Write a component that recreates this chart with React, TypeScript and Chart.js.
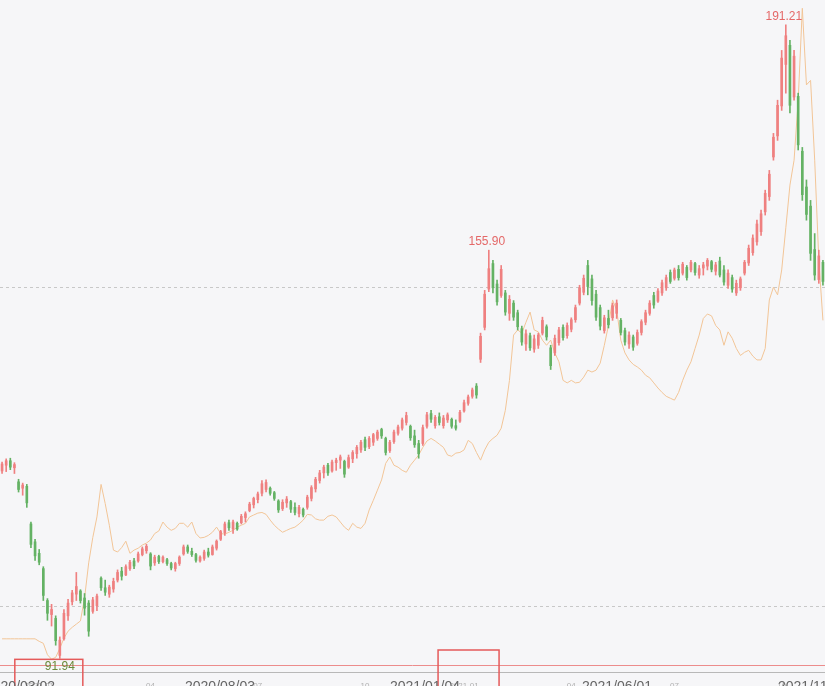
import { useEffect, useRef } from "react";
import { Chart, registerables } from "chart.js";

Chart.register(...registerables);

// ---- data ----
const openP = [
  121.3,122.2,122.9,121.8,119.6,118.6,118.9,113.0,110.2,108.4,
  106.0,101.0,98.8,98.2,92.4,95.0,98.6,100.8,102.0,102.5,
  101.4,100.6,99.3,100.2,104.5,103.0,102.0,102.8,104.2,105.6,
  105.0,106.0,107.2,107.2,108.2,108.8,108.3,106.9,107.9,107.1,
  107.4,106.8,106.0,106.8,108.3,109.4,108.7,108.2,107.2,107.6,
  108.6,108.2,109.2,110.6,111.6,113.2,112.2,113.1,113.2,114.0,
  115.1,116.0,116.8,117.8,118.4,118.6,117.9,116.6,115.4,116.3,
  116.5,115.6,114.6,115.3,115.6,117.0,118.5,119.8,121.0,122.2,
  121.3,122.6,123.0,122.8,121.9,123.2,124.0,124.6,126.2,125.1,
  125.8,126.4,127.8,126.4,124.5,125.9,127.2,128.0,128.9,128.3,
  126.8,125.6,125.6,128.3,130.3,128.4,129.8,128.4,129.3,129.4,
  128.4,129.1,130.7,131.9,133.0,134.6,138.8,143.8,149.8,153.8,
  150.6,148.8,149.2,146.0,147.6,146.1,143.6,141.2,142.5,140.4,
  141.0,142.9,143.9,140.6,139.8,141.4,143.8,142.5,143.5,145.0,
  147.6,149.3,153.5,151.4,149.0,146.9,143.3,145.2,145.3,146.0,
  144.9,143.3,141.2,142.3,141.3,143.0,144.6,146.0,148.8,147.9,
  149.2,150.0,152.4,151.5,152.9,152.3,153.2,152.8,153.8,152.0,
  153.1,153.4,154.1,152.6,154.2,152.8,150.4,151.6,149.2,150.0,
  152.3,153.9,155.5,157.2,158.8,161.9,164.3,170.5,173.8,178.5,
  185.0,188.0,179.9,180.0,171.4,165.8,162.8,156.0,151.3,154.0,
];
const closeP = [
  122.4,122.9,121.9,122.3,118.4,119.1,116.3,109.8,108.0,107.0,
  101.8,99.0,99.6,94.7,94.8,99.0,100.6,102.2,103.2,101.0,
  99.8,96.2,101.1,101.7,103.0,102.3,103.1,104.0,105.4,104.8,
  106.3,107.0,106.4,108.3,109.1,109.5,106.4,107.8,107.1,107.8,
  106.8,106.1,106.8,107.8,109.4,108.7,108.2,107.3,107.8,108.6,
  108.1,109.4,110.3,111.8,113.0,112.4,113.3,112.2,114.2,114.6,
  116.1,117.0,117.7,119.3,119.5,117.8,117.0,115.2,116.4,116.9,
  115.3,114.8,115.6,114.4,117.2,118.7,120.0,121.0,121.9,121.0,
  122.7,123.0,123.5,120.8,123.4,124.2,125.0,125.8,125.0,126.4,
  127.0,127.4,126.8,124.2,125.8,127.4,128.2,129.3,130.0,126.5,
  125.4,124.0,128.1,130.1,129.4,129.7,128.9,129.6,130.1,128.3,
  128.0,130.5,132.0,132.9,134.0,133.2,142.4,149.0,153.0,150.0,
  147.8,152.9,146.2,148.2,145.4,143.9,141.5,142.8,140.6,142.0,
  142.6,144.9,142.3,137.8,142.1,143.4,142.2,144.1,145.0,146.9,
  150.0,151.5,150.2,148.0,145.4,144.0,145.3,144.2,147.2,147.6,
  143.0,141.5,142.6,140.7,143.0,144.7,146.1,147.6,147.3,149.5,
  150.8,151.6,151.0,152.8,151.6,153.7,151.6,154.0,152.4,153.0,
  153.6,154.3,152.9,153.6,152.0,150.9,152.3,149.8,150.7,151.4,
  154.0,156.2,157.8,160.0,161.6,164.8,167.8,173.6,178.6,186.0,
  189.5,178.6,186.3,172.4,164.6,161.5,155.4,152.0,155.0,151.0,
];
const highP = [
  122.7,123.2,123.3,122.6,120.0,119.4,119.2,113.3,110.6,109.0,
  106.3,101.3,100.4,98.6,95.3,99.6,101.2,102.6,105.4,102.7,
  102.1,101.0,101.5,102.0,104.7,104.2,103.4,104.5,105.8,106.2,
  106.6,107.3,107.6,108.6,109.4,109.8,108.5,108.1,108.1,108.0,
  107.6,107.0,107.0,108.0,109.7,109.7,109.2,108.4,108.0,108.9,
  109.2,109.7,110.5,112.0,113.3,113.6,113.6,113.3,114.5,114.9,
  116.4,117.2,118.0,119.8,119.9,118.8,118.1,116.8,116.8,117.3,
  116.7,116.3,115.9,115.5,117.5,119.0,120.3,121.4,122.2,122.5,
  123.0,123.3,123.8,123.0,123.8,124.5,125.3,126.1,126.6,126.7,
  127.2,127.7,128.0,126.6,126.1,127.7,128.5,129.6,130.5,128.5,
  127.7,126.1,128.5,130.5,130.8,130.0,130.4,130.0,130.4,129.6,
  129.3,130.8,132.4,133.2,134.3,135.0,142.9,149.6,155.9,154.3,
  151.2,153.5,149.6,148.8,148.0,146.5,144.0,143.4,142.9,142.6,
  142.9,145.4,144.2,141.0,142.6,143.8,144.2,144.5,145.3,147.3,
  150.4,152.0,154.3,152.0,149.6,147.3,145.7,146.5,147.6,148.1,
  145.2,143.7,143.1,142.6,143.4,145.0,146.5,148.0,149.3,149.9,
  151.2,152.0,152.8,153.1,153.5,154.0,153.5,154.3,154.0,153.5,
  154.0,154.6,154.3,154.0,154.8,153.5,152.8,152.0,151.2,151.7,
  154.3,156.7,158.3,160.6,162.2,165.3,168.4,174.2,179.4,187.2,
  191.21,188.8,187.2,180.5,172.0,166.9,163.7,158.5,155.9,154.3,
];
const lowP = [
  120.9,121.2,121.5,120.9,118.0,117.5,115.6,109.3,107.3,106.6,
  101.0,97.9,97.0,94.0,91.94,94.8,97.9,100.3,101.0,100.6,
  98.7,95.4,99.0,99.4,102.6,101.8,101.5,102.3,103.9,104.2,
  104.9,105.7,106.0,107.0,108.0,108.4,105.8,106.5,106.8,106.9,
  106.5,105.8,105.6,106.5,108.1,108.4,107.9,107.0,107.0,107.3,
  107.8,108.1,108.9,110.4,111.2,112.0,111.5,112.0,113.0,113.3,
  114.9,115.5,116.3,117.4,118.0,117.5,116.7,114.8,115.1,115.6,
  114.8,114.4,114.1,114.1,115.3,116.6,118.0,119.4,120.2,120.6,
  121.1,121.4,121.7,120.3,121.7,122.6,123.3,124.2,124.5,124.8,
  125.3,126.1,126.4,123.8,124.2,125.6,126.9,127.7,128.5,126.1,
  125.0,123.3,125.3,128.0,128.9,128.0,128.5,128.0,128.9,128.0,
  127.7,128.9,130.5,131.6,132.7,132.7,138.3,143.4,149.4,149.2,
  147.3,148.5,145.7,144.9,144.9,143.4,141.0,140.2,140.2,139.9,
  140.5,142.6,141.8,137.2,139.4,141.0,141.8,142.1,143.1,144.6,
  147.3,148.9,148.9,147.3,144.9,143.4,142.9,143.7,144.9,145.2,
  142.6,141.0,140.5,140.2,141.0,142.6,144.2,145.7,146.8,147.7,
  148.8,149.6,150.7,151.2,151.2,152.0,151.2,152.5,152.0,151.5,
  152.0,152.8,152.5,152.0,151.7,150.4,149.9,149.3,148.8,149.6,
  152.0,153.5,155.1,156.7,158.2,161.4,163.7,170.0,173.1,177.8,
  180.5,177.4,179.4,171.6,163.7,160.6,154.3,151.2,150.7,150.4,
];
const compareLine = [
  95.0,95.0,95.0,95.0,95.0,95.0,95.0,95.0,95.0,94.6,
  94.3,92.5,91.8,92.1,93.5,95.1,96.2,96.8,97.3,97.8,
  101.4,106.9,110.9,114.1,119.2,116.2,112.8,108.9,108.6,109.3,
  110.3,108.4,108.9,109.2,109.7,110.0,110.5,111.5,111.9,113.3,
  112.5,112.0,112.3,113.1,113.1,112.5,113.3,111.5,110.8,110.9,
  111.2,111.7,112.5,111.5,111.4,111.7,112.0,112.5,112.8,113.1,
  114.1,114.4,114.7,114.8,114.5,113.6,112.8,112.2,111.7,112.0,
  112.3,112.5,113.0,113.6,114.5,114.4,113.8,113.6,113.6,114.2,
  114.4,114.1,113.3,112.5,112.0,113.1,112.5,112.3,113.1,115.2,
  116.7,118.3,119.9,122.5,123.5,122.2,121.9,121.4,121.1,122.2,
  123.0,123.8,125.0,126.0,126.4,126.0,125.5,125.0,123.8,123.6,
  124.1,124.2,124.6,126.1,125.6,124.2,123.0,124.6,125.8,126.4,
  126.9,128.0,130.8,135.5,142.6,143.4,142.9,144.6,146.2,143.4,
  143.1,141.8,141.0,141.8,139.8,138.4,135.5,135.1,135.5,135.1,
  135.2,136.0,137.1,136.8,137.1,138.2,141.0,144.1,148.1,146.5,
  141.8,139.8,138.7,138.0,137.6,137.1,136.3,135.9,135.1,134.3,
  133.6,133.0,132.7,132.4,133.6,135.5,137.1,138.4,140.5,142.6,
  145.2,145.9,145.6,144.1,143.4,141.0,143.1,142.1,140.5,139.4,
  139.9,140.2,139.3,138.7,138.7,140.5,148.1,150.1,148.9,152.8,
  159.4,166.1,170.0,179.4,193.8,181.8,182.5,170.0,154.3,144.9,
];

const tickLabels = ["2020-01", "04", "07", "10", "2021-01", "04", "07", "10"];
const tickAt = [9, 36, 62, 88, 112, 138, 163, 189];
const peakMarks = [118, 190];
const boxedTick = 112;
const gridLevels = [100, 150];
const baseLevel = 90.85;
const yMin = 89.8;
const yMax = 195.1;
const navLabels = ["2020/03/02", "2020/08/03", "2021/01/04", "2021/06/01", "2021/11/01"];

const labels = openP.map((_, i) => {
  const k = tickAt.indexOf(i);
  return k >= 0 ? tickLabels[k] : "";
});

const UP = "#ef8080";
const DOWN = "#64b264";

const marksPlugin = {
  id: "marks",
  afterDatasetsDraw(chart: any) {
    const { ctx, chartArea, scales } = chart;
    const x = scales.x;
    const y = scales.y;
    ctx.save();
    const yb = Math.round(y.getPixelForValue(baseLevel)) + 0.5;
    ctx.strokeStyle = "#ec8c8c";
    ctx.lineWidth = 1;
    ctx.beginPath();
    ctx.moveTo(chartArea.left, yb);
    ctx.lineTo(chartArea.right, yb);
    ctx.stroke();

    ctx.font = "12px 'Liberation Sans', Arial, sans-serif";
    ctx.textAlign = "center";
    ctx.textBaseline = "bottom";
    ctx.fillStyle = "#e46868";
    peakMarks.forEach((i) => {
      ctx.fillText(highP[i].toFixed(2), x.getPixelForValue(i) - 2, y.getPixelForValue(highP[i]) - 2);
    });

    let lo = 0;
    lowP.forEach((v, i) => {
      if (v < lowP[lo]) lo = i;
    });
    const lx = x.getPixelForValue(lo);
    const ly = y.getPixelForValue(lowP[lo]);
    ctx.fillStyle = "#6b8a3a";
    ctx.textBaseline = "top";
    ctx.fillText(lowP[lo].toFixed(2), lx, ly + 2);

    ctx.strokeStyle = "#e55a5a";
    ctx.lineWidth = 1.5;
    ctx.strokeRect(lx - 45, ly + 1, 68, 40);
    const tx = x.getPixelForValue(boxedTick);
    ctx.strokeRect(tx - 26, chartArea.bottom - 22, 61, 40);
    ctx.restore();
  },
};

export default function App() {
  const ref = useRef<HTMLCanvasElement | null>(null);

  useEffect(() => {
    document.body.style.margin = "0";
    const canvas = ref.current;
    if (!canvas) return;
    const colors = openP.map((o, i) => (closeP[i] >= o ? UP : DOWN));
    const wicks = lowP.map((l, i) => [l, highP[i]]);
    const bodies = openP.map((o, i) => [o, closeP[i]]);
    const chart = new Chart(canvas, {
      type: "bar",
      data: {
        labels,
        datasets: [
          {
            type: "line",
            data: compareLine,
            borderColor: "#f2c597",
            borderWidth: 1,
            pointRadius: 0,
            order: 3,
          } as any,
          {
            type: "bar",
            data: wicks,
            backgroundColor: colors,
            barThickness: 1,
            grouped: false,
            order: 2,
          } as any,
          {
            type: "bar",
            data: bodies,
            backgroundColor: colors,
            barThickness: 2,
            minBarLength: 1,
            grouped: false,
            order: 1,
          } as any,
        ],
      },
      options: {
        animation: false,
        responsive: false,
        events: [],
        layout: { padding: 0 },
        plugins: { legend: { display: false }, tooltip: { enabled: false } },
        scales: {
          x: {
            offset: true,
            grid: { display: false },
            border: { color: "#b8b8b8" },
            afterFit: (s: any) => {
              s.height = 14;
            },
            ticks: {
              autoSkip: false,
              maxRotation: 0,
              padding: 1,
              color: "#b0b0b0",
              font: { size: 8 },
              callback: (_v: any, i: number) => labels[i],
            },
          },
          y: {
            min: yMin,
            max: yMax,
            ticks: { display: false },
            grid: { color: "#c8c8c8", drawTicks: false },
            border: { display: false, dash: [3, 3] },
            afterBuildTicks: (s: any) => {
              s.ticks = gridLevels.map((v) => ({ value: v }));
            },
          },
        },
      } as any,
      plugins: [marksPlugin],
    });
    return () => chart.destroy();
  }, []);

  const navLeft = [-15, 185, 390, 582, 778];

  return (
    <div
      style={{
        position: "relative",
        width: 825,
        height: 686,
        overflow: "hidden",
        background: "#f6f6f8",
      }}
    >
      <canvas ref={ref} width={825} height={686} style={{ display: "block" }} />
      {navLabels.map((t, i) => (
        <div
          key={t}
          style={{
            position: "absolute",
            left: navLeft[i],
            top: 679,
            font: "14px 'Liberation Sans', Arial, sans-serif",
            lineHeight: "14px",
            color: "#666",
            whiteSpace: "nowrap",
          }}
        >
          {t}
        </div>
      ))}
    </div>
  );
}
